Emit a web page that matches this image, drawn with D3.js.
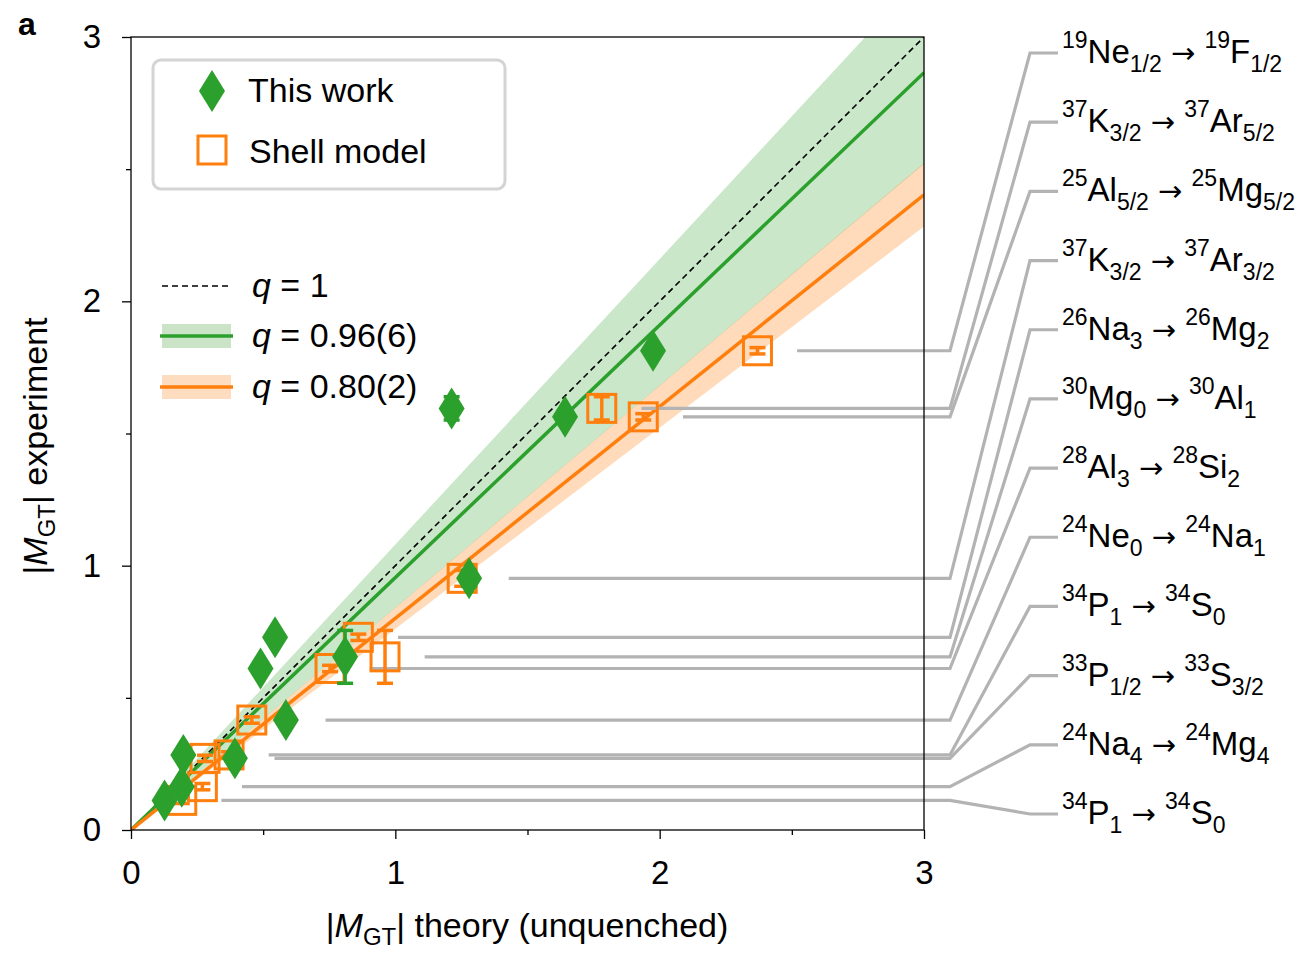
<!DOCTYPE html>
<html lang="en">
<head>
<meta charset="UTF-8">
<script src="https://cdn.jsdelivr.net/npm/d3@7"></script>
<title>MGT comparison</title>
<style>
  body { margin: 0; background: #fff; }
  svg text { font-family: "Liberation Sans", Arial, Helvetica, sans-serif; fill: #000; white-space: pre; }
</style>
</head>
<body>
<svg id="canvas" width="1310" height="953"></svg>
<script>
// transitions, top label to bottom label
var massNumber  = ["19", "37", "25", "37", "26", "30", "28", "24", "34", "33", "24", "34"];
var parentSym   = ["Ne", "K", "Al", "K", "Na", "Mg", "Al", "Ne", "P", "P", "Na", "P"];
var parentJ     = ["1/2", "3/2", "5/2", "3/2", "3", "0", "3", "0", "1", "1/2", "4", "1"];
var daughterSym = ["F", "Ar", "Mg", "Ar", "Mg", "Al", "Si", "Na", "S", "S", "Mg", "S"];
var daughterJ   = ["1/2", "5/2", "5/2", "3/2", "2", "1", "2", "1", "0", "3/2", "4", "0"];

// |M_GT| experiment and its error
var expValue = [1.813, 1.595, 1.563, 0.952, 0.729, 0.655, 0.611, 0.416, 0.284, 0.271, 0.164, 0.112];
var expErr   = [0.012, 0.044, 0.012, 0.030, 0.012, 0.100, 0.012, 0.012, 0.012, 0.012, 0.012, 0.012];
// |M_GT| theory (unquenched)
var thisWork   = [1.975, 1.213, 1.642, 1.279, 0.545, 0.810, 0.490, 0.586, 0.198, 0.393, 0.192, 0.127];
var shellModel = [2.370, 1.781, 1.938, 1.253, 0.860, 0.961, 0.753, 0.457, 0.371, 0.280, 0.270, 0.192];

// quenching fits: slope and band
var fitNames = ["0.96(6)", "0.80(2)"];
var fitQ     = [0.955, 0.801];
var fitLo    = [0.840, 0.761];
var fitHi    = [1.080, 0.841];
var fitColor = ["#2ca02c", "#ff7f0e"];
var bandColor = ["#cbe4c8", "#fddcbf"];

var axisTicks = [0, 1, 2, 3];
var minorTicks = [0.5, 1.5, 2.5];

var svg = d3.select("#canvas");
var plotLeft = 131, plotTop = 37, plotSize = 793;
var x = d3.scaleLinear().domain([0, 3]).range([plotLeft, plotLeft + plotSize]);
var y = d3.scaleLinear().domain([0, 3]).range([plotTop + plotSize, plotTop]);

svg.append("clipPath").attr("id", "plotclip")
  .append("rect").attr("x", plotLeft).attr("y", plotTop).attr("width", plotSize).attr("height", plotSize);

var plot = svg.append("g").attr("clip-path", "url(#plotclip)");

// bands
fitQ.forEach(function(q, i) {
  var area = d3.area()
    .x(function(d) { return x(d); })
    .y0(function(d) { return y(fitLo[i] * d); })
    .y1(function(d) { return y(fitHi[i] * d); });
  plot.append("path").attr("d", area([0, 3]))
    .attr("fill", fitColor[i])
    .attr("fill-opacity", i == 0 ? 0.25 : 0.28);
});

var line = d3.line().x(function(d) { return x(d[0]); }).y(function(d) { return y(d[1]); });
plot.append("path").attr("d", line([[0, 0], [3, 3]]))
  .attr("stroke", "#000").attr("stroke-width", 1.6).attr("stroke-dasharray", "6,4").attr("fill", "none");
fitQ.forEach(function(q, i) {
  plot.append("path").attr("d", line([[0, 0], [3, 3 * q]]))
    .attr("stroke", fitColor[i]).attr("stroke-width", 3.5).attr("fill", "none");
});

// leader lines to labels
var labelY = d3.scalePoint().domain(d3.range(expValue.length)).range([53, 814]);
expValue.forEach(function(v, i) {
  var xs = x(Math.max(thisWork[i], shellModel[i]) + 0.15);
  var pts = [[xs, y(v)], [950, y(v)], [1030, labelY(i)], [1058, labelY(i)]];
  svg.append("path").attr("d", d3.line()(pts))
    .attr("stroke", "#b3b3b3").attr("stroke-width", 3.2).attr("fill", "none");
});

// error bars + markers
function errorBars(xs, color) {
  var g = svg.append("g").attr("stroke", color).attr("stroke-width", 3.5);
  xs.forEach(function(xv, i) {
    var cx = x(xv), y0 = y(expValue[i] - expErr[i]), y1 = y(expValue[i] + expErr[i]);
    g.append("line").attr("x1", cx).attr("x2", cx).attr("y1", y0).attr("y2", y1);
    g.append("line").attr("x1", cx - 8).attr("x2", cx + 8).attr("y1", y0).attr("y2", y0);
    g.append("line").attr("x1", cx - 8).attr("x2", cx + 8).attr("y1", y1).attr("y2", y1);
  });
}
var diamond = "M0,-21L13,0L0,21L-13,0Z";

errorBars(shellModel, "#ff7f0e");
svg.append("g").selectAll("rect").data(shellModel).join("rect")
  .attr("x", function(d) { return x(d) - 14; })
  .attr("y", function(d, i) { return y(expValue[i]) - 14; })
  .attr("width", 28).attr("height", 28)
  .attr("fill", "none").attr("stroke", "#ff7f0e").attr("stroke-width", 3);

errorBars(thisWork, "#2ca02c");
svg.append("g").selectAll("path").data(thisWork).join("path")
  .attr("d", diamond)
  .attr("transform", function(d, i) { return "translate(" + x(d) + "," + y(expValue[i]) + ")"; })
  .attr("fill", "#2ca02c");

// frame
svg.append("rect").attr("x", plotLeft).attr("y", plotTop).attr("width", plotSize).attr("height", plotSize)
  .attr("fill", "none").attr("stroke", "#000").attr("stroke-width", 1.3);

// axes
svg.append("g").attr("transform", "translate(0," + (plotTop + plotSize) + ")")
  .call(d3.axisBottom(x).tickValues(axisTicks).tickFormat(d3.format("d")).tickSize(9).tickPadding(22));
svg.append("g").attr("transform", "translate(0," + (plotTop + plotSize) + ")")
  .call(d3.axisBottom(x).tickValues(minorTicks).tickFormat("").tickSize(5));
svg.append("g").attr("transform", "translate(" + plotLeft + ",0)")
  .call(d3.axisLeft(y).tickValues(axisTicks).tickFormat(d3.format("d")).tickSize(9).tickPadding(21));
svg.append("g").attr("transform", "translate(" + plotLeft + ",0)")
  .call(d3.axisLeft(y).tickValues(minorTicks).tickFormat("").tickSize(5));
svg.selectAll(".domain").remove();
svg.selectAll(".tick line").attr("stroke", "#000").attr("stroke-width", 1.3);
svg.selectAll(".tick text").attr("font-size", 33).attr("font-family", "Liberation Sans, Arial, sans-serif");

// rich text helper
function rich(text, segs, big, small, subShift) {
  var cur = 0;
  segs.forEach(function(s) {
    var target = s[1] == "sup" ? -15 : s[1] == "sub" ? (subShift || 9) : 0;
    var t = text.append("tspan").attr("dy", target - cur)
      .attr("font-size", s[1] == "main" ? big : small).text(s[0]);
    if (s[2] == "i") t.attr("font-style", "italic");
    if (s[2] == "arrow") t.attr("font-family", "DejaVu Sans").attr("font-size", 29);
    cur = target;
  });
}

// axis titles
var xt = svg.append("text").attr("x", 527).attr("y", 937).attr("text-anchor", "middle").attr("font-size", 34);
rich(xt, [["|", "main"], ["M", "main", "i"], ["GT", "sub"], ["| theory (unquenched)", "main"]], 34, 24, 8);
var yt = svg.append("text").attr("transform", "translate(47,446) rotate(-90)").attr("text-anchor", "middle").attr("font-size", 34);
rich(yt, [["|", "main"], ["M", "main", "i"], ["GT", "sub"], ["| experiment", "main"]], 34, 24, 8);

svg.append("text").attr("x", 18).attr("y", 35).attr("font-size", 32).attr("font-weight", "bold").text("a");

// transition labels
expValue.forEach(function(v, i) {
  var t = svg.append("text").attr("x", 1062).attr("y", labelY(i) + 10).attr("font-size", 33);
  rich(t, [[massNumber[i], "sup"], [parentSym[i], "main"], [parentJ[i], "sub"], [" ", "main"], ["\u2192", "main", "arrow"], [" ", "main"],
           [massNumber[i], "sup"], [daughterSym[i], "main"], [daughterJ[i], "sub"]], 33, 23);
});

// legend box
var lg = svg.append("g");
lg.append("rect").attr("x", 153).attr("y", 60).attr("width", 352).attr("height", 129).attr("rx", 8)
  .attr("fill", "#fff").attr("stroke", "#d4d4d4").attr("stroke-width", 3);
lg.append("path").attr("d", diamond).attr("transform", "translate(212,91)").attr("fill", "#2ca02c");
lg.append("text").attr("x", 248).attr("y", 102).attr("font-size", 34).text("This work");
lg.append("rect").attr("x", 198).attr("y", 136).attr("width", 28).attr("height", 28)
  .attr("fill", "none").attr("stroke", "#ff7f0e").attr("stroke-width", 3);
lg.append("text").attr("x", 249).attr("y", 163).attr("font-size", 34).text("Shell model");

// fit legend
var fl = svg.append("g");
fl.append("line").attr("x1", 162).attr("x2", 231).attr("y1", 286).attr("y2", 286)
  .attr("stroke", "#000").attr("stroke-width", 1.6).attr("stroke-dasharray", "6,4");
var t0 = fl.append("text").attr("x", 252).attr("y", 297).attr("font-size", 34);
rich(t0, [["q", "main", "i"], [" = 1", "main"]], 34, 22);
fitNames.forEach(function(n, i) {
  var cy = 336 + i * 51;
  fl.append("rect").attr("x", 162).attr("y", cy - 12).attr("width", 69).attr("height", 24)
    .attr("fill", bandColor[i]);
  fl.append("line").attr("x1", 160).attr("x2", 233).attr("y1", cy).attr("y2", cy)
    .attr("stroke", fitColor[i]).attr("stroke-width", 3.5);
  var t = fl.append("text").attr("x", 252).attr("y", cy + 11).attr("font-size", 34);
  rich(t, [["q", "main", "i"], [" = " + n, "main"]], 34, 22);
});
</script>
</body>
</html>
